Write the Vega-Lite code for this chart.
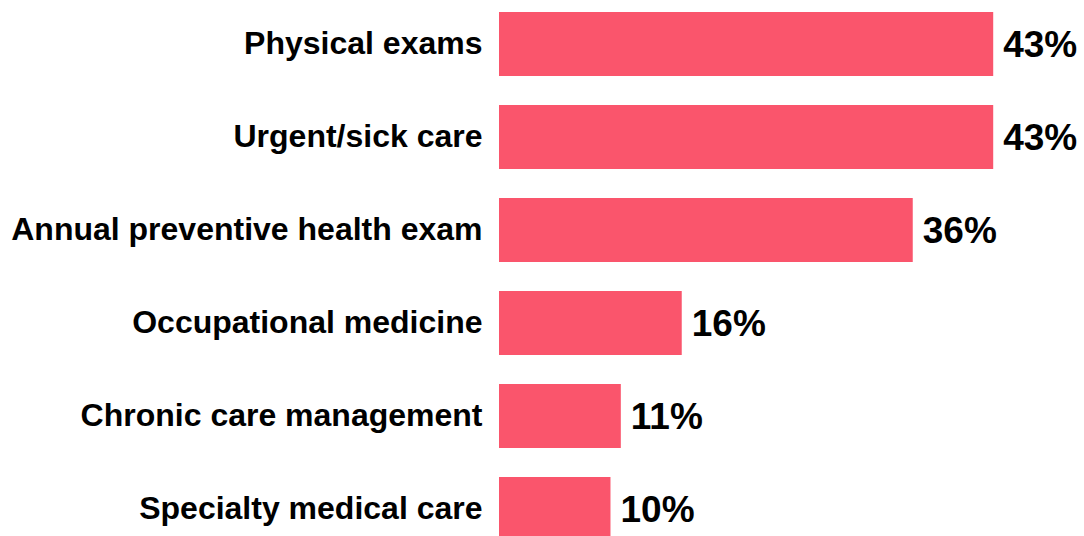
{
  "$schema": "https://vega.github.io/schema/vega-lite/v6.json",
  "width": 585,
  "height": 553,
  "autosize": {"type": "none"},
  "padding": {"left": 499, "top": 0, "right": 0, "bottom": 0},
  "background": "white",
  "config": {"view": {"stroke": null}, "font": "Liberation Sans"},
  "data": {
    "values": [
      {"item": "Physical exams", "pct": 0.43},
      {"item": "Urgent/sick care", "pct": 0.43},
      {"item": "Annual preventive health exam", "pct": 0.36},
      {"item": "Occupational medicine", "pct": 0.159},
      {"item": "Chronic care management", "pct": 0.106},
      {"item": "Specialty medical care", "pct": 0.097}
    ]
  },
  "encoding": {
    "y": {
      "field": "item",
      "type": "nominal",
      "sort": null,
      "scale": {"paddingInner": 0.312, "paddingOuter": 0.13},
      "axis": {
        "title": null,
        "ticks": false,
        "domain": false,
        "labelPadding": 17,
        "labelFontSize": 32,
        "labelFontWeight": "bold",
        "labelColor": "#000000",
        "labelFont": "Liberation Sans",
        "labelLimit": 600
      }
    },
    "x": {
      "field": "pct",
      "type": "quantitative",
      "scale": {"domain": [0, 0.509], "nice": false},
      "axis": null
    }
  },
  "layer": [
    {"mark": {"type": "bar", "color": "#FA556C"}},
    {
      "mark": {
        "type": "text",
        "align": "left",
        "baseline": "middle",
        "dx": 10,
        "dy": 2,
        "fontSize": 37,
        "fontWeight": "bold",
        "font": "Liberation Sans",
        "color": "#000000"
      },
      "encoding": {"text": {"field": "pct", "type": "quantitative", "format": ".0%"}}
    }
  ]
}
